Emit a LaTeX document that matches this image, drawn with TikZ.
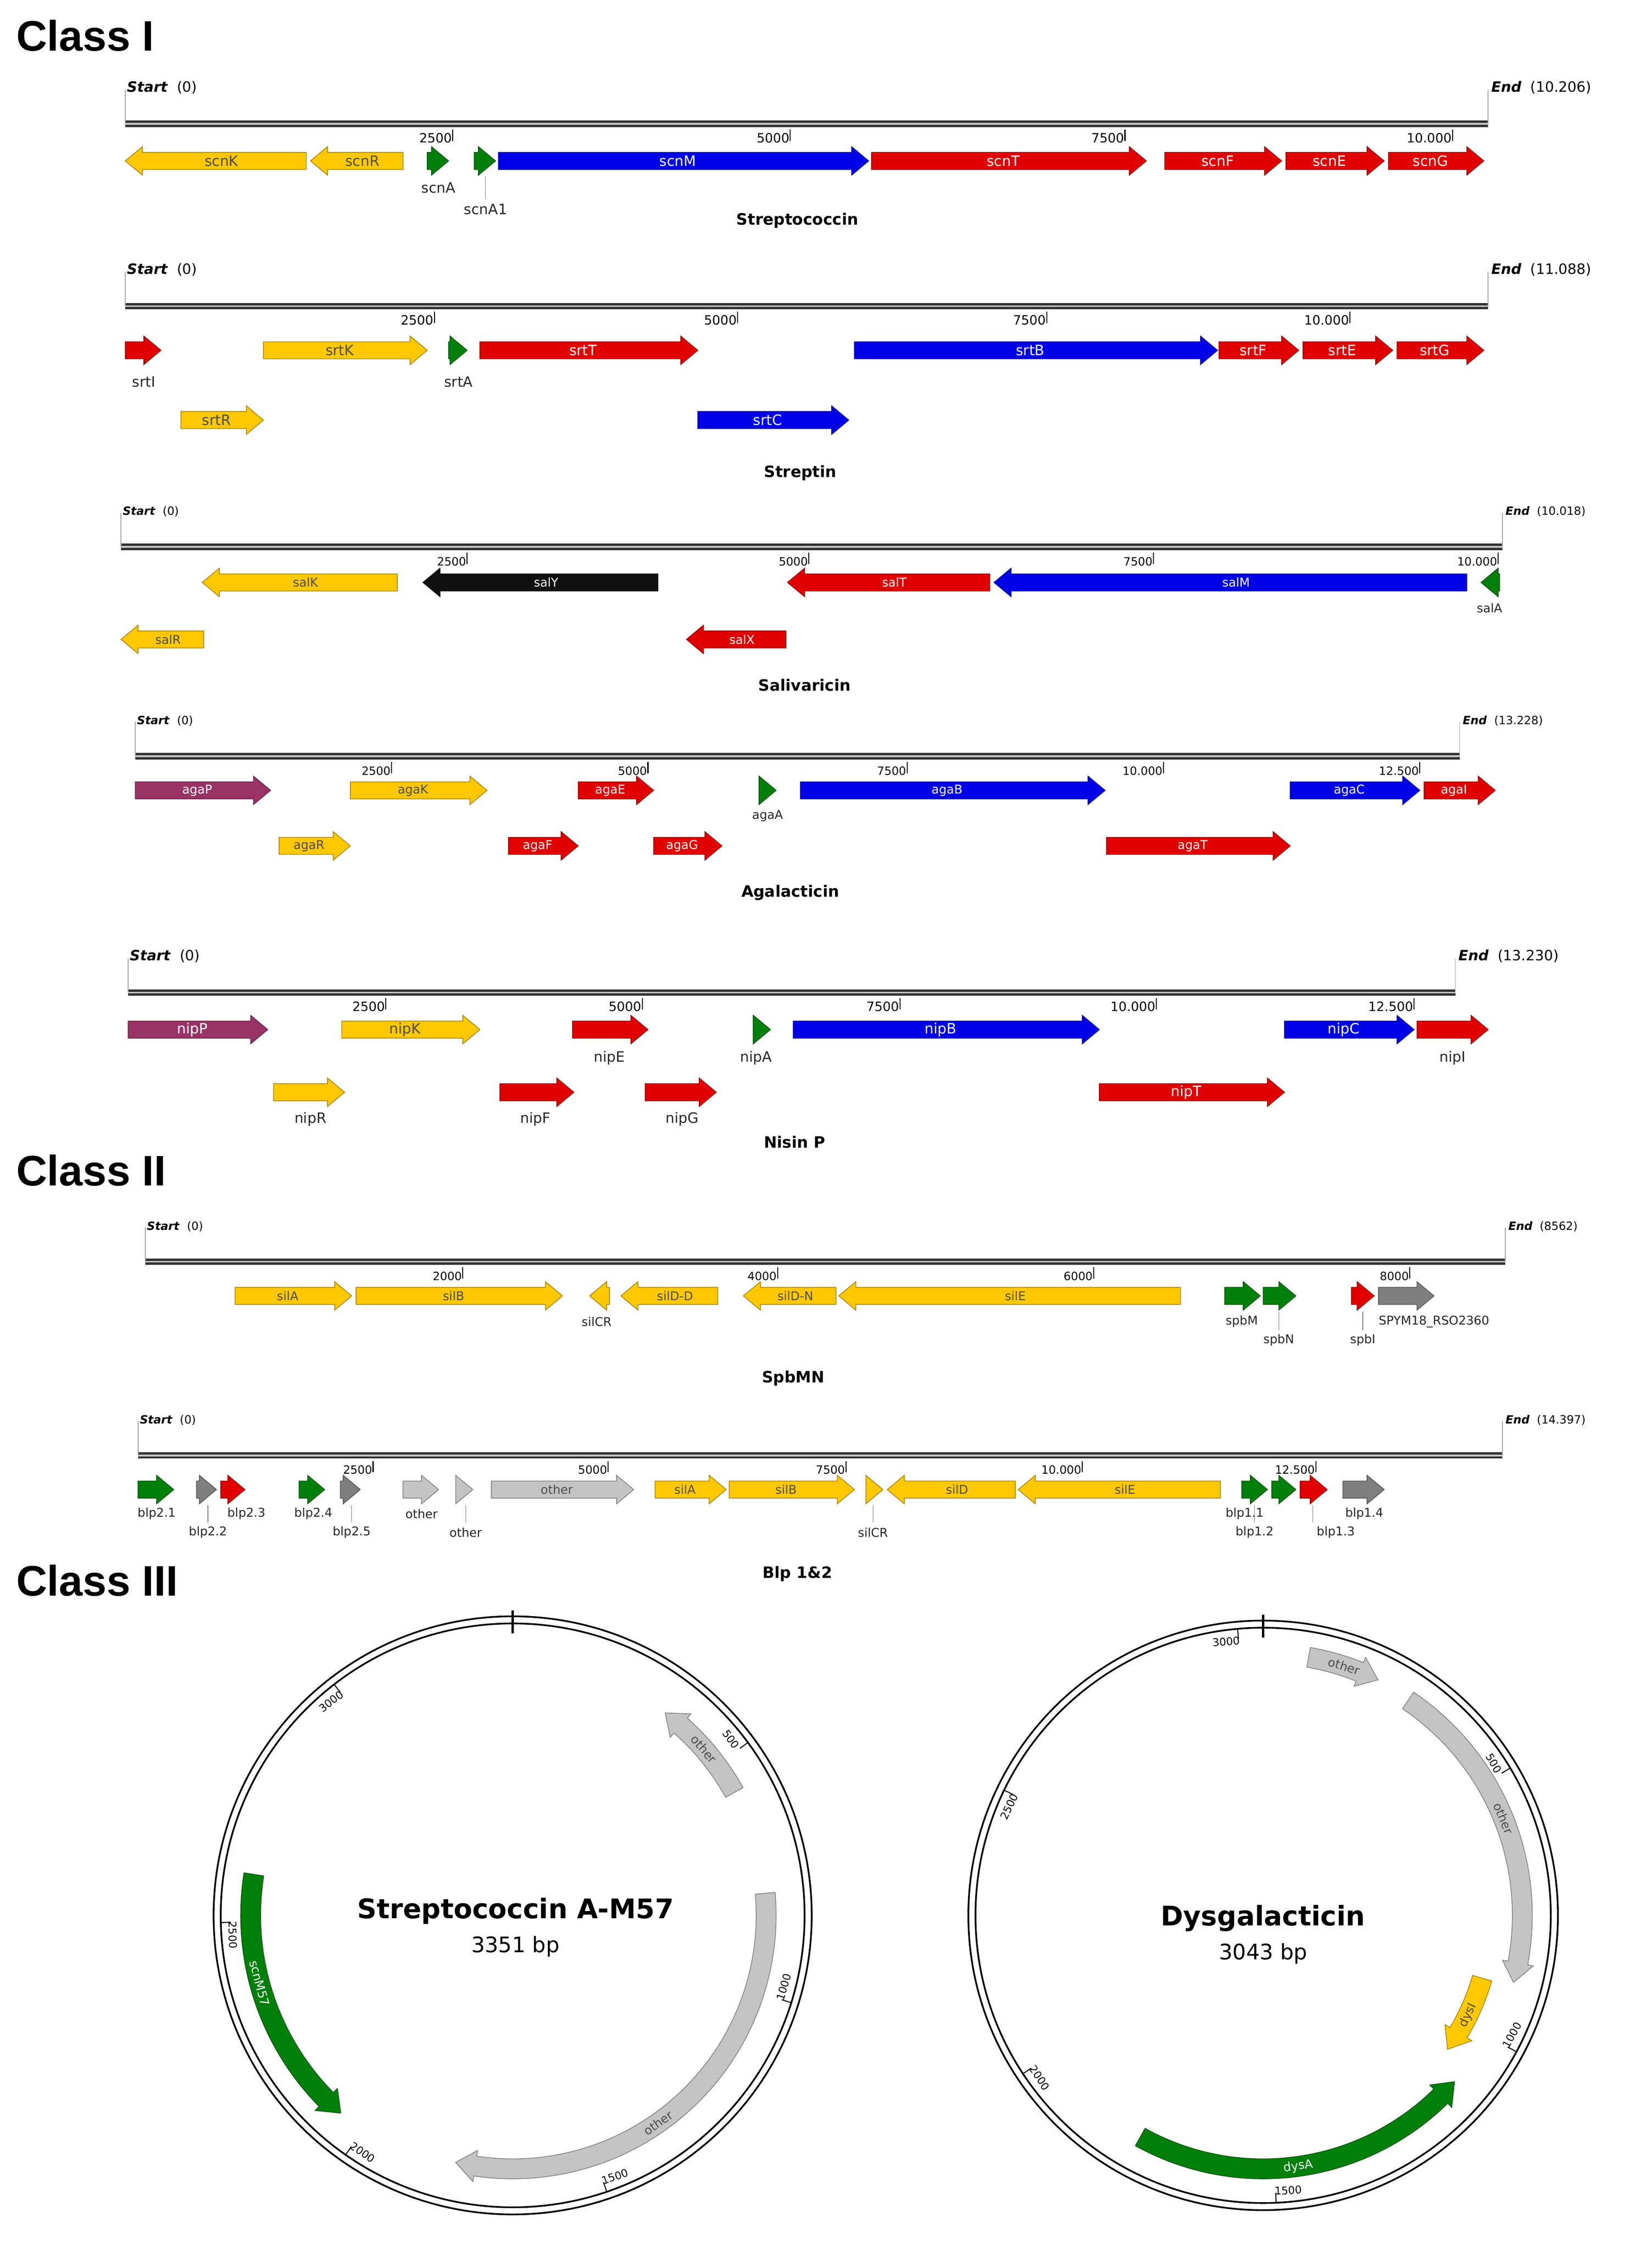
\documentclass[tikz,border=0pt]{standalone}
\usepackage{fontspec}
\setmainfont{DejaVu Sans}
\newfontfamily\hdr{Liberation Sans}
\definecolor{yel}{HTML}{FFC800}
\definecolor{rd}{HTML}{E00000}
\definecolor{bl}{HTML}{0000E6}
\definecolor{gr}{HTML}{00800A}
\definecolor{gy}{HTML}{7F7F7F}
\definecolor{lg}{HTML}{C4C4C4}
\definecolor{pu}{HTML}{993366}
\definecolor{bk}{HTML}{101010}
\tikzset{glab/.style={inner sep=0pt,font=\glf},ulab/.style={inner sep=0pt,font=\ulf,text=black!85},
 ttl/.style={font=\bfseries\fontsize{11}{12}\selectfont},
 cls/.style={anchor=west,font=\hdr\bfseries\fontsize{30}{32}\selectfont}}
\def\glf{\fontsize{10}{11}\selectfont}
\def\ulf{\fontsize{10}{11}\selectfont}
\def\tkf{\fontsize{9}{10}\selectfont}
\def\sef{\fontsize{10}{11}\selectfont}
\newcommand\gR[6]{%
 \pgfmathsetmacro\hx{max(#1,#2-12)}%
 \draw[fill=#4,draw=#4!65!black,line width=0.5pt] (#1,#3-6)--(\hx,#3-6)--(\hx,#3-10)--(#2,#3)--(\hx,#3+10)--(\hx,#3+6)--(#1,#3+6)--cycle;
 \node[glab,text=#6] at ({(#1+#2)/2-4},#3) {#5};}
\newcommand\gL[6]{%
 \pgfmathsetmacro\hx{min(#2,#1+12)}%
 \draw[fill=#4,draw=#4!65!black,line width=0.5pt] (#2,#3-6)--(\hx,#3-6)--(\hx,#3-10)--(#1,#3)--(\hx,#3+10)--(\hx,#3+6)--(#2,#3+6)--cycle;
 \node[glab,text=#6] at ({(#1+#2)/2+4},#3) {#5};}
\newcommand\track[5]{%
 \draw[black!80,line width=4.5pt] (#1,#3)--(#2,#3);
 \draw[gray!45,line width=1.3pt] (#1,#3)--(#2,#3);
 \draw[gray!70,line width=0.5pt] (#1,#3)--(#1,#3-24) (#2,#3)--(#2,#3-24);
 \node[anchor=south west,inner sep=1pt,font=\sef] at (#1,#3-20) {\textbf{\textit{Start}}\ \ (0)};
 \node[anchor=south west,inner sep=1pt,font=\sef] at (#2+1,#3-20) {\textbf{\textit{End}}\ \ (#4)};
 \foreach \tx/\tl in {#5} {\draw[line width=0.7pt] (\tx,#3+4)--(\tx,#3+12);
  \node[anchor=south east,inner sep=0.5pt,font=\tkf] at (\tx,#3+14) {\tl};}}
\newcommand\agene[5]{%
 \pgfmathsetmacro\hh{sign(#3-#2)*14/#1*57.3}%
 \pgfmathsetmacro\ah{#3-\hh}%
 \draw[fill=#4,draw=#4!65!black,line width=0.5pt] ({#2}:{#1+7}) arc[start angle=#2,end angle=\ah,radius=#1+7] -- ({\ah}:{#1+11}) -- ({#3}:{#1}) -- ({\ah}:{#1-11}) -- ({\ah}:{#1-7}) arc[start angle=\ah,end angle=#2,radius=#1-7] -- cycle;}
\newcommand\ctick[4]{% r, angle, label, rot
 \draw[line width=0.7pt] ({#2}:{#1-5}) -- ({#2}:{#1-12});
 \node[inner sep=0pt,font=\tkf,rotate=#4] at ({#2-2.6}:{#1-13}) {#3};}
\begin{document}
\begin{tikzpicture}[x=1pt,y=1pt,yscale=-1]
\useasboundingbox[fill=white] (0,0) rectangle (1160,1580);
% ---------- Class I
\node[cls] (c1) at (8,25) {Class I};
% Streptococcin
\track{88}{1045}{87}{10.206}{318/2500,555/5000,790/7500,1020/10.000}
\gL{88}{215}{113}{yel}{scnK}{black!70}
\gL{218}{283}{113}{yel}{scnR}{black!70}
\gR{300}{315}{113}{gr}{}{white}
\gR{333}{348}{113}{gr}{}{white}
\gR{350}{610}{113}{bl}{scnM}{white}
\gR{612}{805}{113}{rd}{scnT}{white}
\gR{818}{900}{113}{rd}{scnF}{white}
\gR{903}{972}{113}{rd}{scnE}{white}
\gR{975}{1042}{113}{rd}{scnG}{white}
\node[ulab] at (308,132) {scnA};
\draw[gray] (341,124)--(341,140);
\node[ulab] at (341,147) {scnA1};
\node[ttl] at (560,155) {Streptococcin};
% Streptin
\track{88}{1045}{215}{11.088}{305/2500,518/5000,735/7500,948/10.000}
\gR{88}{113}{246}{rd}{}{white}
\gR{185}{300}{246}{yel}{srtK}{black!70}
\gR{315}{328}{246}{gr}{}{white}
\gR{337}{490}{246}{rd}{srtT}{white}
\gR{600}{855}{246}{bl}{srtB}{white}
\gR{856}{912}{246}{rd}{srtF}{white}
\gR{915}{978}{246}{rd}{srtE}{white}
\gR{981}{1042}{246}{rd}{srtG}{white}
\gR{127}{185}{295}{yel}{srtR}{black!70}
\gR{490}{596}{295}{bl}{srtC}{white}
\node[ulab] at (101,268) {srtI};
\node[ulab] at (322,268) {srtA};
\node[ttl] at (562,332) {Streptin};
% Salivaricin
\def\sef{\fontsize{8}{9}\selectfont}\def\glf{\fontsize{8.5}{9}\selectfont}\def\tkf{\fontsize{8}{9}\selectfont}\def\ulf{\fontsize{8.5}{9}\selectfont}
\track{85}{1055}{384}{10.018}{328/2500,568/5000,810/7500,1052/10.000}
\gL{142}{279}{409}{yel}{salK}{black!70}
\gL{297}{462}{409}{bk}{salY}{white}
\gL{553}{695}{409}{rd}{salT}{white}
\gL{698}{1030}{409}{bl}{salM}{white}
\gL{1040}{1053}{409}{gr}{}{white}
\gL{85}{143}{449}{yel}{salR}{black!70}
\gL{482}{552}{449}{rd}{salX}{white}
\node[ulab] at (1046,427) {salA};
\node[ttl] at (565,481) {Salivaricin};
% Agalacticin
\track{95}{1025}{531}{13.228}{275/2500,455/5000,637/7500,817/10.000,997/12.500}
\gR{95}{190}{555}{pu}{agaP}{white}
\gR{246}{342}{555}{yel}{agaK}{black!70}
\gR{406}{459}{555}{rd}{agaE}{white}
\gR{533}{545}{555}{gr}{}{white}
\gR{562}{776}{555}{bl}{agaB}{white}
\gR{906}{997}{555}{bl}{agaC}{white}
\gR{1000}{1050}{555}{rd}{agaI}{white}
\gR{196}{246}{594}{yel}{agaR}{black!70}
\gR{357}{406}{594}{rd}{agaF}{white}
\gR{459}{507}{594}{rd}{agaG}{white}
\gR{777}{906}{594}{rd}{agaT}{white}
\node[ulab] at (539,573) {agaA};
\node[ttl] at (555,627) {Agalacticin};
% Nisin P
\def\sef{\fontsize{10}{11}\selectfont}\def\glf{\fontsize{10}{11}\selectfont}\def\tkf{\fontsize{9}{10}\selectfont}\def\ulf{\fontsize{10}{11}\selectfont}
\track{90}{1022}{697}{13.230}{271/2500,451/5000,632/7500,812/10.000,993/12.500}
\gR{90}{188}{723}{pu}{nipP}{white}
\gR{240}{337}{723}{yel}{nipK}{black!70}
\gR{402}{455}{723}{rd}{}{white}
\gR{529}{541}{723}{gr}{}{white}
\gR{557}{772}{723}{bl}{nipB}{white}
\gR{902}{993}{723}{bl}{nipC}{white}
\gR{995}{1045}{723}{rd}{}{white}
\gR{192}{242}{767}{yel}{}{white}
\gR{351}{403}{767}{rd}{}{white}
\gR{453}{503}{767}{rd}{}{white}
\gR{772}{902}{767}{rd}{nipT}{white}
\node[ulab] at (428,743) {nipE};
\node[ulab] at (531,743) {nipA};
\node[ulab] at (1020,743) {nipI};
\node[ulab] at (218,786) {nipR};
\node[ulab] at (376,786) {nipF};
\node[ulab] at (479,786) {nipG};
\node[ttl] at (558,802) {Nisin P};
% ---------- Class II
\node[cls] (c2) at (8,822) {Class II};
\def\sef{\fontsize{8}{9}\selectfont}\def\glf{\fontsize{8.5}{9}\selectfont}\def\tkf{\fontsize{8}{9}\selectfont}\def\ulf{\fontsize{8.5}{9}\selectfont}
% SpbMN
\track{102}{1057}{886}{8562}{325/2000,546/4000,768/6000,990/8000}
\gR{165}{247}{910}{yel}{silA}{black!70}
\gR{250}{395}{910}{yel}{silB}{black!70}
\gL{414}{428}{910}{yel}{}{black!70}
\gL{436}{504}{910}{yel}{silD-D}{black!70}
\gL{522}{587}{910}{yel}{silD-N}{black!70}
\gL{589}{829}{910}{yel}{silE}{black!70}
\gR{860}{885}{910}{gr}{}{white}
\gR{887}{910}{910}{gr}{}{white}
\gR{949}{965}{910}{rd}{}{white}
\gR{968}{1007}{910}{gy}{}{white}
\node[ulab] at (419,928) {silCR};
\node[ulab] at (872,928) {spbM};
\draw[gray] (898,921)--(898,934); \node[ulab] at (898,941) {spbN};
\draw[gray] (957,921)--(957,934); \node[ulab] at (957,941) {spbI};
\node[ulab,anchor=west] at (968,928) {SPYM18\_RSO2360};
\node[ttl] at (557,968) {SpbMN};
% Blp 1&2
\track{97}{1055}{1022}{14.397}{262/2500,427/5000,594/7500,760/10.000,924/12.500}
\gR{97}{122}{1046}{gr}{}{white}
\gR{138}{152}{1046}{gy}{}{white}
\gR{155}{172}{1046}{rd}{}{white}
\gR{210}{228}{1046}{gr}{}{white}
\gR{239}{253}{1046}{gy}{}{white}
\gR{283}{308}{1046}{lg}{}{white}
\gR{320}{332}{1046}{lg}{}{white}
\gR{345}{445}{1046}{lg}{other}{black!70}
\gR{460}{510}{1046}{yel}{silA}{black!70}
\gR{512}{600}{1046}{yel}{silB}{black!70}
\gR{608}{620}{1046}{yel}{}{black!70}
\gL{623}{713}{1046}{yel}{silD}{black!70}
\gL{715}{857}{1046}{yel}{silE}{black!70}
\gR{872}{890}{1046}{gr}{}{white}
\gR{893}{910}{1046}{gr}{}{white}
\gR{913}{932}{1046}{rd}{}{white}
\gR{943}{972}{1046}{gy}{}{white}
\node[ulab] at (110,1063) {blp2.1};
\draw[gray] (146,1057)--(146,1069); \node[ulab] at (146,1076) {blp2.2};
\node[ulab] at (173,1063) {blp2.3};
\node[ulab] at (220,1063) {blp2.4};
\draw[gray] (247,1057)--(247,1069); \node[ulab] at (247,1076) {blp2.5};
\node[ulab] at (296,1063) {other};
\draw[gray] (327,1057)--(327,1069); \node[ulab] at (327,1076) {other};
\draw[gray] (613,1057)--(613,1069); \node[ulab] at (613,1076) {silCR};
\node[ulab] at (874,1063) {blp1.1};
\draw[gray] (881,1057)--(881,1069); \node[ulab] at (881,1076) {blp1.2};
\draw[gray] (922,1057)--(922,1069); \node[ulab] at (938,1076) {blp1.3};
\node[ulab] at (958,1063) {blp1.4};
\node[ttl] at (560,1105) {Blp 1\&2};
% ---------- Class III
\node[cls] (c3) at (8,1110) {Class III};
\def\glf{\fontsize{8.5}{9}\selectfont}\def\tkf{\fontsize{7.5}{8}\selectfont}
\begin{scope}[shift={(360,1345)}]
 \draw[line width=1.2pt] (0,0) circle[radius=210];
 \draw[line width=1.2pt] (0,0) circle[radius=205];
 \draw[line width=1.5pt] (-90:198)--(-90:214);
 \ctick{210}{-36.3}{500}{-53.7}
 \ctick{210}{17.4}{1000}{72.6}
 \ctick{210}{71.2}{1500}{18.8}
 \ctick{210}{124.9}{2000}{-34.9}
 \ctick{210}{178.6}{2500}{-88.6}
 \ctick{210}{232.3}{3000}{37.7}
 \agene{178}{-29}{-53}{lg}{}
 \node[glab,rotate=-49,text=black!70] at (-41:178) {other};
 \agene{178}{-5}{103}{lg}{}
 \node[glab,rotate=35,text=black!70] at (55:178) {other};
 \agene{184}{189}{131}{gr}{}
 \node[glab,rotate=-75,text=white] at (165:184) {scnM57};
 \node[font=\bfseries\fontsize{19}{20}\selectfont] at (2,-3) {Streptococcin A-M57};
 \node[font=\fontsize{15}{16}\selectfont] at (2,22) {3351 bp};
\end{scope}
\begin{scope}[shift={(887,1345)}]
 \draw[line width=1.2pt] (0,0) circle[radius=207];
 \draw[line width=1.2pt] (0,0) circle[radius=202];
 \draw[line width=1.5pt] (-90:195)--(-90:211);
 \ctick{207}{-30.8}{500}{-59.2}
 \ctick{207}{28.3}{1000}{61.7}
 \ctick{207}{87.4}{1500}{2.6}
 \ctick{207}{146.6}{2000}{-56.6}
 \ctick{207}{205.8}{2500}{64.2}
 \ctick{207}{264.9}{3000}{5.1}
 \agene{184}{-80}{-64}{lg}{}
 \node[glab,rotate=-18,text=black!70] at (-72:184) {other};
 \agene{182}{-56}{15}{lg}{}
 \node[glab,rotate=-68,text=black!70] at (-22:182) {other};
 \agene{160}{16}{36}{yel}{}
 \node[glab,rotate=65,text=black!70] at (26:160) {dysI};
 \agene{178}{119}{41}{gr}{}
 \node[glab,rotate=8,text=white] at (82:178) {dysA};
 \node[font=\bfseries\fontsize{19}{20}\selectfont] at (0,2) {Dysgalacticin};
 \node[font=\fontsize{15}{16}\selectfont] at (0,27) {3043 bp};
\end{scope}
\end{tikzpicture}
\end{document}
